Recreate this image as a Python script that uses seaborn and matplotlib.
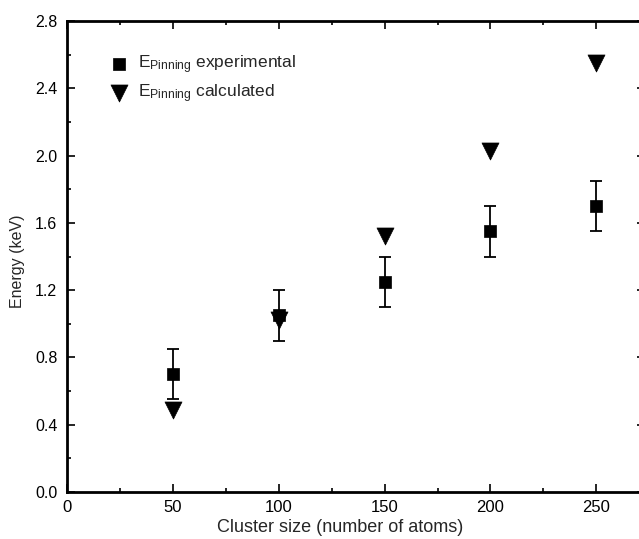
import matplotlib
matplotlib.use("Agg")
import matplotlib.pyplot as plt
from matplotlib.ticker import MultipleLocator
import seaborn as sns
import pandas as pd

# Data
cluster_size = [50, 100, 150, 200, 250]
e_exp = [0.70, 1.05, 1.25, 1.55, 1.70]
e_exp_err = [0.15, 0.15, 0.15, 0.15, 0.15]
e_calc = [0.49, 1.02, 1.52, 2.03, 2.55]
x_ticks = [0, 50, 100, 150, 200, 250]
y_ticks = [0.0, 0.4, 0.8, 1.2, 1.6, 2.0, 2.4, 2.8]

sns.set_style("ticks")
plt.rcParams['font.family'] = ['Liberation Sans', 'DejaVu Sans']
plt.rcParams['mathtext.default'] = 'regular'

W, H = 639, 539
fig = plt.figure(figsize=(W / 100, H / 100), dpi=100)
ax = fig.add_axes([67 / W, 47 / H, (645 - 67) / W, (492 - 21) / H])

df_exp = pd.DataFrame({"x": cluster_size, "y": e_exp, "err": e_exp_err})
df_calc = pd.DataFrame({"x": cluster_size, "y": e_calc})

ax.errorbar(df_exp["x"], df_exp["y"], yerr=df_exp["err"], fmt="none",
            ecolor="black", elinewidth=1.3, capsize=4, capthick=1.3, zorder=2)
sns.scatterplot(data=df_exp, x="x", y="y", marker="s", s=85, color="black",
                edgecolor="black", linewidth=0.5, ax=ax, zorder=3,
                label=r"E$_{Pinning}$ experimental")
sns.scatterplot(data=df_calc, x="x", y="y", marker="v", s=150, color="black",
                edgecolor="black", linewidth=0.5, ax=ax, zorder=4,
                label=r"E$_{Pinning}$ calculated")

ax.set_xlim(0, 273)
ax.set_ylim(0, 2.8)
ax.set_xticks(x_ticks)
ax.set_xticklabels([str(v) for v in x_ticks])
ax.set_yticks(y_ticks)
ax.set_yticklabels([f"{v:.1f}" for v in y_ticks])
ax.xaxis.set_minor_locator(MultipleLocator(25))
ax.yaxis.set_minor_locator(MultipleLocator(0.2))

for s in ax.spines.values():
    s.set_visible(True)
    s.set_linewidth(2.0)
    s.set_color("black")

ax.tick_params(which="both", direction="in", top=True, right=True,
               colors="black", width=1.2)
ax.tick_params(which="major", length=6)
ax.tick_params(which="minor", length=3)
ax.tick_params(axis="x", which="major", labelsize=12, pad=6)
ax.tick_params(axis="y", which="major", labelsize=11.5, pad=7)

ax.set_xlabel("Cluster size (number of atoms)", fontsize=13)
ax.xaxis.set_label_coords((340 - 67) / (645 - 67), -0.058)
ax.set_ylabel("Energy (keV)", fontsize=11.5)
ax.yaxis.set_label_coords(-0.072, 0.49)

leg = ax.legend(loc="upper left", bbox_to_anchor=(0.06, 0.945), frameon=False,
                fontsize=12.5, handletextpad=0.5, labelspacing=0.35,
                borderaxespad=0.0, handlelength=1.2)

fig.savefig("out.png", dpi=100)
